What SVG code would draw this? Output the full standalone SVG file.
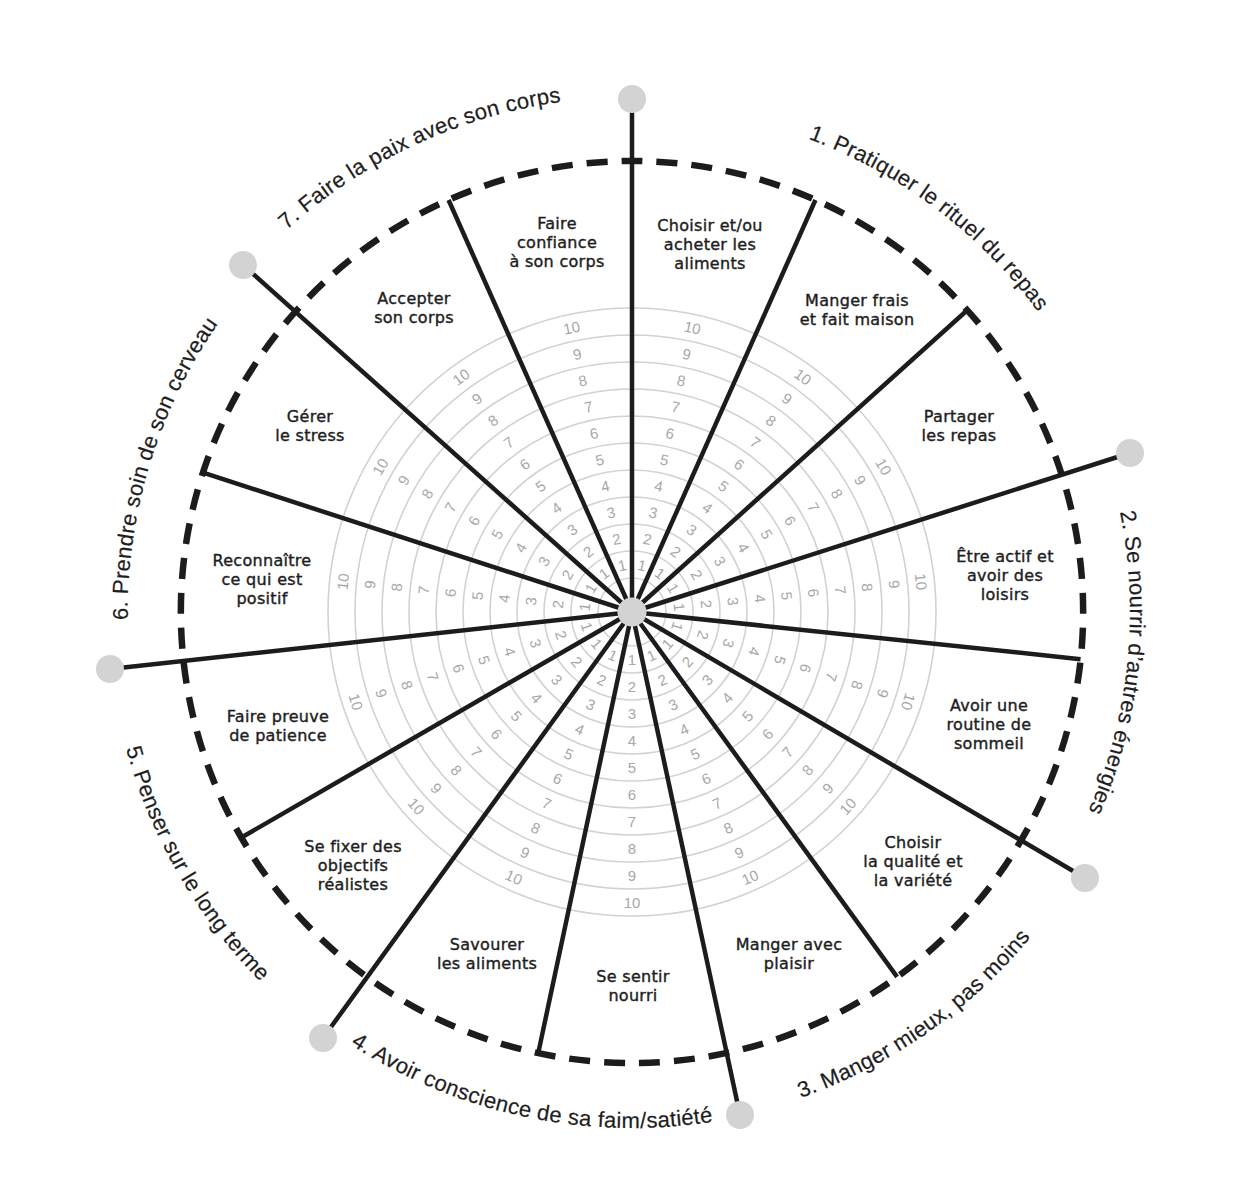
<svg xmlns="http://www.w3.org/2000/svg" xmlns:xlink="http://www.w3.org/1999/xlink" width="1250" height="1182" viewBox="0 0 1250 1182">
<style>
.ring{fill:none;stroke:#d2d2d2;stroke-width:1.6}
.num{font-family:"Liberation Sans",Arial,sans-serif;font-size:15px;fill:#a8a8a8;text-anchor:middle}
.spoke{stroke:#1c1c1c;stroke-width:4.5;fill:none}
.dash{fill:none;stroke:#1c1c1c;stroke-width:6.5;stroke-dasharray:0.6 0.4;stroke-dashoffset:0.3}
.dot{fill:#d3d3d3}
.lbl{font-family:"DejaVu Sans","Liberation Sans",Arial,sans-serif;font-size:16px;fill:#1e1e1e;text-anchor:middle;letter-spacing:0.3px;stroke:#1e1e1e;stroke-width:0.4}
.cat{font-family:"Liberation Sans",Arial,sans-serif;font-size:22px;fill:#1e1e1e;letter-spacing:0.3px;stroke:#1e1e1e;stroke-width:0.2}
</style>
<defs>
<g id="nT" class="num">
<text x="0" y="-47.5" dy="0.35em">1</text><text x="0" y="-74.5" dy="0.35em">2</text><text x="0" y="-101.5" dy="0.35em">3</text><text x="0" y="-128.5" dy="0.35em">4</text><text x="0" y="-155.5" dy="0.35em">5</text><text x="0" y="-182.5" dy="0.35em">6</text><text x="0" y="-209.5" dy="0.35em">7</text><text x="0" y="-236.5" dy="0.35em">8</text><text x="0" y="-263.5" dy="0.35em">9</text><text x="0" y="-290.5" dy="0.35em">10</text>
</g>
<g id="nB" class="num">
<text x="0" y="47.5" dy="0.35em">1</text><text x="0" y="74.5" dy="0.35em">2</text><text x="0" y="101.5" dy="0.35em">3</text><text x="0" y="128.5" dy="0.35em">4</text><text x="0" y="155.5" dy="0.35em">5</text><text x="0" y="182.5" dy="0.35em">6</text><text x="0" y="209.5" dy="0.35em">7</text><text x="0" y="236.5" dy="0.35em">8</text><text x="0" y="263.5" dy="0.35em">9</text><text x="0" y="290.5" dy="0.35em">10</text>
</g>
<path id="p1" d="M 357.0 188.5 A 505 505 0 0 1 1114.9 759.7"/>
<path id="p2" d="M 850.3 164.4 A 498 498 0 0 1 752.5 1095.2"/>
<path id="p3" d="M 334.9 1036.3 A 520 520 0 0 0 1132.3 477.9"/>
<path id="p4" d="M 121.0 683.8 A 516 516 0 0 0 1069.6 885.4"/>
<path id="p5" d="M 229.1 273.9 A 527 527 0 0 0 723.3 1130.0"/>
<path id="p6" d="M 326.3 1017.7 A 510 510 0 0 1 605.4 104.7"/>
<path id="p7" d="M 119.0 656.9 A 515 515 0 0 1 996.2 247.8"/>
</defs>
<rect width="1250" height="1182" fill="#ffffff"/>

<g id="rings">
<circle class="ring" cx="632" cy="612" r="34"/><circle class="ring" cx="632" cy="612" r="61"/><circle class="ring" cx="632" cy="612" r="88"/><circle class="ring" cx="632" cy="612" r="115"/><circle class="ring" cx="632" cy="612" r="142"/><circle class="ring" cx="632" cy="612" r="169"/><circle class="ring" cx="632" cy="612" r="196"/><circle class="ring" cx="632" cy="612" r="223"/><circle class="ring" cx="632" cy="612" r="250"/><circle class="ring" cx="632" cy="612" r="277"/><circle class="ring" cx="632" cy="612" r="304"/>
</g>

<g id="scale-numbers">
<use xlink:href="#nT" href="#nT" transform="translate(632,612) rotate(-12)"/>
<use xlink:href="#nT" href="#nT" transform="translate(632,612) rotate(12)"/>
<use xlink:href="#nT" href="#nT" transform="translate(632,612) rotate(36)"/>
<use xlink:href="#nT" href="#nT" transform="translate(632,612) rotate(60)"/>
<use xlink:href="#nT" href="#nT" transform="translate(632,612) rotate(84)"/>
<use xlink:href="#nT" href="#nT" transform="translate(632,612) rotate(108)"/>
<use xlink:href="#nT" href="#nT" transform="translate(632,612) rotate(-84)"/>
<use xlink:href="#nT" href="#nT" transform="translate(632,612) rotate(-60)"/>
<use xlink:href="#nT" href="#nT" transform="translate(632,612) rotate(-36)"/>
<use xlink:href="#nB" href="#nB" transform="translate(632,612) rotate(-48)"/>
<use xlink:href="#nB" href="#nB" transform="translate(632,612) rotate(-24)"/>
<use xlink:href="#nB" href="#nB" transform="translate(632,612) rotate(0)"/>
<use xlink:href="#nB" href="#nB" transform="translate(632,612) rotate(24)"/>
<use xlink:href="#nB" href="#nB" transform="translate(632,612) rotate(48)"/>
<use xlink:href="#nB" href="#nB" transform="translate(632,612) rotate(72)"/>
</g>

<g id="outer-dashed">
<path class="dash" pathLength="81" d="M 632 161 A 451 451 0 1 1 632 1063 A 451 451 0 1 1 632 161"/>
</g>

<g id="connectors">
<line class="spoke" x1="632" y1="612" x2="632" y2="161" transform="rotate(24 632 612)"/>
<line class="spoke" x1="632" y1="612" x2="632" y2="161" transform="rotate(48 632 612)"/>
<line class="spoke" x1="632" y1="612" x2="632" y2="161" transform="rotate(96 632 612)"/>
<line class="spoke" x1="632" y1="612" x2="632" y2="161" transform="rotate(144 632 612)"/>
<line class="spoke" x1="632" y1="612" x2="632" y2="161" transform="rotate(192 632 612)"/>
<line class="spoke" x1="632" y1="612" x2="632" y2="161" transform="rotate(240 632 612)"/>
<line class="spoke" x1="632" y1="612" x2="632" y2="161" transform="rotate(288 632 612)"/>
<line class="spoke" x1="632" y1="612" x2="632" y2="161" transform="rotate(336 632 612)"/>
<line class="spoke" x1="632" y1="612" x2="632" y2="99"/>
<line class="spoke" x1="632" y1="612" x2="1130" y2="453"/>
<line class="spoke" x1="632" y1="612" x2="1085" y2="878"/>
<line class="spoke" x1="632" y1="612" x2="740" y2="1115"/>
<line class="spoke" x1="632" y1="612" x2="323" y2="1038"/>
<line class="spoke" x1="632" y1="612" x2="110" y2="669"/>
<line class="spoke" x1="632" y1="612" x2="243" y2="265"/>
</g>

<g id="end-dots">
<circle class="dot" cx="632" cy="99" r="14"/>
<circle class="dot" cx="1130" cy="453" r="14"/>
<circle class="dot" cx="1085" cy="878" r="14"/>
<circle class="dot" cx="740" cy="1115" r="14"/>
<circle class="dot" cx="323" cy="1038" r="14"/>
<circle class="dot" cx="110" cy="669" r="14"/>
<circle class="dot" cx="243" cy="265" r="14"/>
</g>
<g id="center"><circle class="dot" cx="632" cy="612" r="14.5"/></g>

<g id="n-faire-confiance"><text class="lbl" x="557" y="229">Faire<tspan x="557" dy="19">confiance</tspan><tspan x="557" dy="19">à son corps</tspan></text></g>
<g id="n-choisir-acheter"><text class="lbl" x="710" y="231">Choisir et/ou<tspan x="710" dy="19">acheter les</tspan><tspan x="710" dy="19">aliments</tspan></text></g>
<g id="n-manger-frais"><text class="lbl" x="857" y="306">Manger frais<tspan x="857" dy="19">et fait maison</tspan></text></g>
<g id="n-partager"><text class="lbl" x="959" y="422">Partager<tspan x="959" dy="19">les repas</tspan></text></g>
<g id="n-etre-actif"><text class="lbl" x="1005" y="562">Être actif et<tspan x="1005" dy="19">avoir des</tspan><tspan x="1005" dy="19">loisirs</tspan></text></g>
<g id="n-routine"><text class="lbl" x="989" y="711">Avoir une<tspan x="989" dy="19">routine de</tspan><tspan x="989" dy="19">sommeil</tspan></text></g>
<g id="n-qualite"><text class="lbl" x="913" y="848">Choisir<tspan x="913" dy="19">la qualité et</tspan><tspan x="913" dy="19">la variété</tspan></text></g>
<g id="n-plaisir"><text class="lbl" x="789" y="950">Manger avec<tspan x="789" dy="19">plaisir</tspan></text></g>
<g id="n-nourri"><text class="lbl" x="633" y="982">Se sentir<tspan x="633" dy="19">nourri</tspan></text></g>
<g id="n-savourer"><text class="lbl" x="487" y="950">Savourer<tspan x="487" dy="19">les aliments</tspan></text></g>
<g id="n-objectifs"><text class="lbl" x="353" y="852">Se fixer des<tspan x="353" dy="19">objectifs</tspan><tspan x="353" dy="19">réalistes</tspan></text></g>
<g id="n-patience"><text class="lbl" x="278" y="722">Faire preuve<tspan x="278" dy="19">de patience</tspan></text></g>
<g id="n-positif"><text class="lbl" x="262" y="566">Reconnaître<tspan x="262" dy="19">ce qui est</tspan><tspan x="262" dy="19">positif</tspan></text></g>
<g id="n-stress"><text class="lbl" x="310" y="422">Gérer<tspan x="310" dy="19">le stress</tspan></text></g>
<g id="n-accepter"><text class="lbl" x="414" y="304">Accepter<tspan x="414" dy="19">son corps</tspan></text></g>

<g id="categories">
<text class="cat"><textPath href="#p1" xlink:href="#p1" startOffset="50%" text-anchor="middle">1. Pratiquer le rituel du repas</textPath></text>
<text class="cat"><textPath href="#p2" xlink:href="#p2" startOffset="50%" text-anchor="middle">2. Se nourrir d’autres énergies</textPath></text>
<text class="cat"><textPath href="#p3" xlink:href="#p3" startOffset="50%" text-anchor="middle">3. Manger mieux, pas moins</textPath></text>
<text class="cat"><textPath href="#p4" xlink:href="#p4" startOffset="50%" text-anchor="middle">4. Avoir conscience de sa faim/satiété</textPath></text>
<text class="cat"><textPath href="#p5" xlink:href="#p5" startOffset="50%" text-anchor="middle">5. Penser sur le long terme</textPath></text>
<text class="cat"><textPath href="#p6" xlink:href="#p6" startOffset="50%" text-anchor="middle">6. Prendre soin de son cerveau</textPath></text>
<text class="cat"><textPath href="#p7" xlink:href="#p7" startOffset="50%" text-anchor="middle">7. Faire la paix avec son corps</textPath></text>
</g>
</svg>
